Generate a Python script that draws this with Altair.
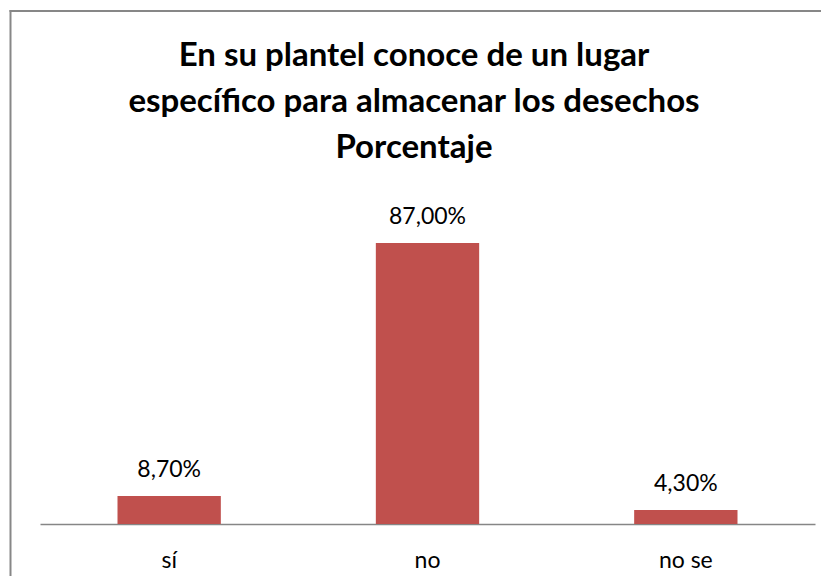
import altair as alt
import pandas as pd

categories = ["sí", "no", "no se"]
values = [8.7, 87.0, 4.3]
value_labels = ["8,70%", "87,00%", "4,30%"]
title_lines = ["En su plantel conoce de un lugar",
               "específico para almacenar los desechos",
               "Porcentaje"]

df = pd.DataFrame({"cat": categories, "val": values, "lab": value_labels})

x_enc = alt.X("cat:N", sort=categories,
              scale=alt.Scale(paddingInner=0.6, paddingOuter=0.3),
              axis=alt.Axis(title=None, labelAngle=0, ticks=False, tickSize=0,
                            domainColor="#868686", domainWidth=1.5,
                            labelFont="Lato", labelFontSize=23, labelColor="#000000",
                            labelBaseline="alphabetic", labelPadding=43, grid=False))
y_enc = alt.Y("val:Q", scale=alt.Scale(domain=[0, 100], nice=False), axis=None)

bars = alt.Chart(df).mark_bar(color="#C0504D").encode(x=x_enc, y=y_enc)

labels = alt.Chart(df).mark_text(baseline="alphabetic", dy=-19, font="Lato",
                                 fontSize=23, color="#000000").encode(
    x=alt.X("cat:N", sort=categories), y="val:Q", text="lab:N")

one = pd.DataFrame({"k": [0]})
frame_top = alt.Chart(one).mark_rule(stroke="#878787", strokeWidth=2).encode(
    x=alt.value(-30.5), x2=alt.value(790), y=alt.value(-190))
frame_left = alt.Chart(one).mark_rule(stroke="#878787", strokeWidth=2).encode(
    x=alt.value(-29.5), y=alt.value(-191), y2=alt.value(380))

title = alt.Chart(one).mark_text(
    font="Lato", fontSize=33, fontWeight="bold", color="#000000",
    align="center", baseline="alphabetic", lineHeight=46,
    text=title_lines).encode(x=alt.value(374), y=alt.value(-135))

chart = alt.layer(frame_top, frame_left, bars, labels, title).properties(
    width=775, height=323,
    autosize=alt.AutoSizeParams(type="none"),
    padding={"left": 32, "top": 193, "right": 6, "bottom": 52},
    background="#ffffff",
).configure_view(stroke=None)

chart.save("out.html", embed_options={"renderer": "svg", "actions": False})
